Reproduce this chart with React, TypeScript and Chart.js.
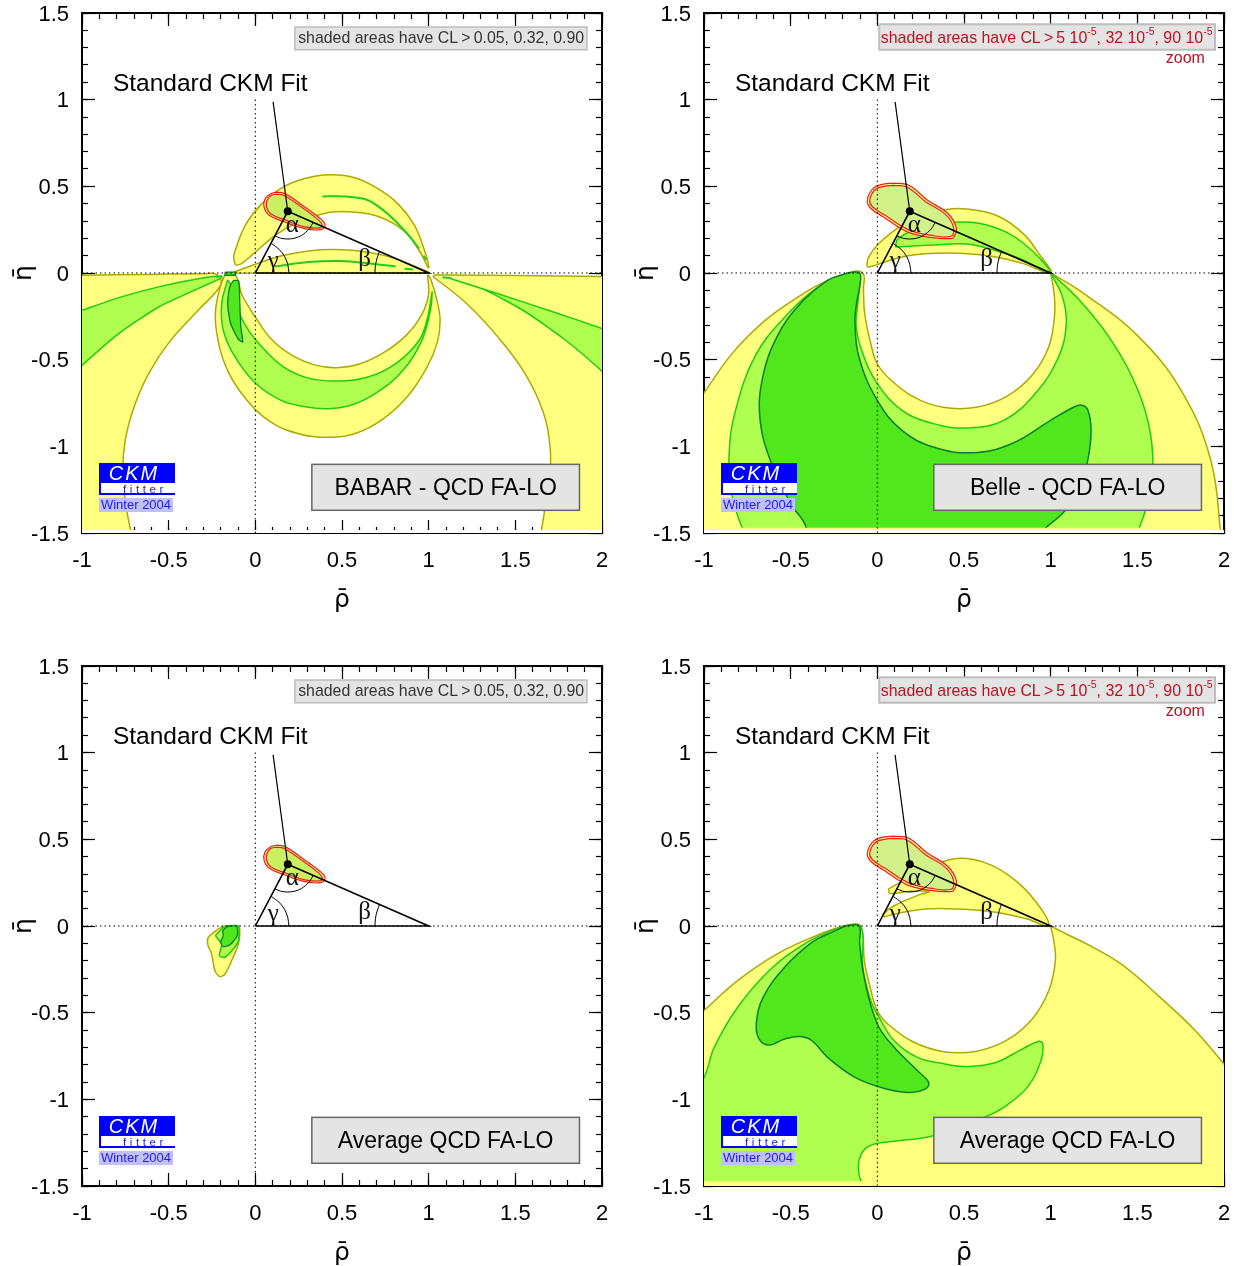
import React, { useEffect, useRef } from "react";
import { Chart, registerables } from "chart.js";

Chart.register(...registerables);

type P = [number, number];

// ---------- shared chart data ----------
const triangle: P[] = [[0, 0], [1, 0], [0.187, 0.356], [0, 0]];
const leader: P[] = [[0.1025, 0.987], [0.187, 0.356]];
const apex: P[] = [[0.187, 0.356]];
const gammaArc: P[] = [[0.194, 0], [0.187, 0.05], [0.168, 0.097], [0.137, 0.137], [0.093, 0.17]];
const betaArc: P[] = [[0.69, 0], [0.693, 0.045], [0.703, 0.087], [0.716, 0.124]];
const alphaArc: P[] = [[0.112, 0.215], [0.146, 0.201], [0.187, 0.196], [0.228, 0.201], [0.267, 0.217], [0.31, 0.253], [0.334, 0.292]];
const hAxis: P[] = [[-1, 0], [2, 0]];
const vAxis: P[] = [[0, -1.5], [0, 1.5]];

const ckmSmallOuter: P[] = [[0.125, 0.467], [0.171, 0.458], [0.285, 0.381], [0.376, 0.313], [0.403, 0.275], [0.376, 0.25], [0.285, 0.256], [0.171, 0.294], [0.08, 0.333], [0.05, 0.381], [0.057, 0.429], [0.091, 0.458], [0.125, 0.467]];
const ckmSmallInner: P[] = [[0.12, 0.455], [0.165, 0.447], [0.278, 0.372], [0.366, 0.305], [0.388, 0.272], [0.372, 0.26], [0.285, 0.266], [0.175, 0.305], [0.09, 0.34], [0.065, 0.38], [0.068, 0.42], [0.09, 0.447], [0.12, 0.455]];
const ckmZoomOuter: P[] = [[0.092, 0.519], [0.18, 0.508], [0.288, 0.421], [0.404, 0.346], [0.456, 0.26], [0.44, 0.205], [0.421, 0.198], [0.306, 0.205], [0.173, 0.237], [0.035, 0.323], [-0.04, 0.375], [-0.058, 0.421], [-0.023, 0.49], [0.035, 0.513], [0.092, 0.519]];
const ckmZoomInner: P[] = [[0.092, 0.505], [0.173, 0.495], [0.28, 0.41], [0.393, 0.338], [0.44, 0.262], [0.425, 0.212], [0.306, 0.218], [0.178, 0.25], [0.045, 0.333], [-0.028, 0.382], [-0.044, 0.421], [-0.012, 0.482], [0.04, 0.5], [0.092, 0.505]];

// bands along the bottom axis where the contour scan stops
const stripWhite: P[] = [[-1.1, -1.5], [2.1, -1.5], [2.1, -1.482], [-1.1, -1.482], [-1.1, -1.5]];
const stripBelle: P[] = [[-1.1, -1.482], [1.975, -1.482], [1.975, -1.47], [-1.1, -1.47], [-1.1, -1.482]];
const stripAverage: P[] = [[-1.1, -1.5], [2.1, -1.5], [2.1, -1.473], [-1.1, -1.473], [-1.1, -1.5]];

// ---------- BABAR ----------
const babarUpperYellow: P[] = [[-0.114, 0.044], [-0.125, 0.09], [-0.111, 0.145], [-0.055, 0.28], [0.034, 0.396], [0.15, 0.49], [0.285, 0.545], [0.43, 0.567], [0.575, 0.55], [0.71, 0.485], [0.826, 0.396], [0.915, 0.28], [0.971, 0.145], [1.0, 0.03], [0.945, 0.13], [0.854, 0.246], [0.717, 0.323], [0.58, 0.35], [0.444, 0.352], [0.33, 0.323], [0.19, 0.265], [0.08, 0.19], [-0.011, 0.11], [-0.08, 0.054], [-0.114, 0.044]];
const babarLensYellow: P[] = [[-0.125, 0.005], [0.125, 0.092], [0.31, 0.127], [0.467, 0.135], [0.65, 0.12], [0.81, 0.083], [1.0, 0.005], [1.0, 0], [-0.125, 0], [-0.125, 0.005]];
const babarLeftYellow: P[] = [[-1.1, -0.013], [-1, -0.013], [-0.6, -0.008], [-0.3, -0.004], [-0.22, -0.01], [-0.2, -0.07], [-0.33, -0.215], [-0.49, -0.39], [-0.61, -0.57], [-0.695, -0.76], [-0.75, -0.96], [-0.765, -1.16], [-0.745, -1.35], [-0.705, -1.55], [-0.68, -1.65], [-1.1, -1.65], [-1.1, -0.013]];
const babarRightYellow: P[] = [[1.025, -0.02], [1.04, -0.012], [1.1, -0.012], [1.5, -0.015], [2, -0.02], [2.1, -0.022], [2.1, -1.65], [1.62, -1.65], [1.64, -1.55], [1.675, -1.33], [1.7, -1.16], [1.7, -1.0], [1.66, -0.8], [1.556, -0.58], [1.4, -0.37], [1.22, -0.177], [1.025, -0.02]];
const babarBowlYellow: P[] = [[-0.2, -0.07], [-0.228, -0.2], [-0.225, -0.33], [-0.17, -0.54], [-0.06, -0.72], [0.09, -0.86], [0.26, -0.93], [0.42, -0.948], [0.58, -0.925], [0.74, -0.84], [0.88, -0.71], [0.99, -0.545], [1.05, -0.4], [1.066, -0.273], [1.048, -0.158], [1.014, -0.042], [0.995, -0.013], [1.0, -0.12], [0.96, -0.24], [0.87, -0.36], [0.74, -0.46], [0.6, -0.525], [0.467, -0.546], [0.34, -0.53], [0.22, -0.48], [0.1, -0.39], [0, -0.254], [-0.08, -0.12], [-0.1, -0.04], [-0.125, -0.008], [-0.17, -0.008], [-0.2, -0.07]];
const babarBowlGreen: P[] = [[-0.16, -0.04], [-0.194, -0.177], [-0.185, -0.33], [-0.12, -0.48], [0, -0.635], [0.148, -0.735], [0.28, -0.77], [0.42, -0.783], [0.56, -0.76], [0.7, -0.69], [0.854, -0.56], [0.96, -0.39], [1.01, -0.215], [1.02, -0.11], [1.01, -0.17], [0.995, -0.254], [0.945, -0.388], [0.81, -0.523], [0.65, -0.6], [0.467, -0.623], [0.3, -0.605], [0.16, -0.54], [0.05, -0.44], [-0.04, -0.33], [-0.1, -0.215], [-0.137, -0.08], [-0.16, -0.04]];
const babarBladeDark: P[] = [[-0.125, -0.042], [-0.096, -0.046], [-0.09, -0.158], [-0.084, -0.31], [-0.073, -0.398], [-0.1, -0.38], [-0.143, -0.29], [-0.16, -0.177], [-0.148, -0.08], [-0.125, -0.042]];
const babarSpotDark: P[] = [[-0.175, 0.005], [-0.114, 0.005], [-0.114, -0.013], [-0.175, -0.013], [-0.175, 0.005]];
const babarLeftWedge: P[] = [[-1.1, -0.25], [-1, -0.215], [-0.788, -0.142], [-0.558, -0.08], [-0.33, -0.033], [-0.194, -0.018], [-0.194, -0.028], [-0.33, -0.09], [-0.558, -0.196], [-0.788, -0.35], [-1, -0.533], [-1.1, -0.63], [-1.1, -0.25]];
const babarRightWedge: P[] = [[1.128, -0.033], [1.4, -0.12], [1.72, -0.225], [2, -0.32], [2.1, -0.36], [2.1, -0.67], [2, -0.567], [1.79, -0.388], [1.56, -0.225], [1.33, -0.1], [1.15, -0.04], [1.128, -0.033]];
const babarArcStreak: P[] = [[0.387, 0.442], [0.51, 0.442], [0.65, 0.42], [0.763, 0.342], [0.877, 0.227], [0.945, 0.14]];
const babarLensStreak: P[] = [[0.114, 0.038], [0.307, 0.063], [0.49, 0.069], [0.67, 0.054], [0.81, 0.038]];
const babarDashA: P[] = [[0.86, 0.025], [0.91, 0.02]];
const babarDashB: P[] = [[0.97, 0.1], [0.985, 0.075]];
const babarDashC: P[] = [[1.08, -0.025], [1.13, -0.03]];
const babarDashD: P[] = [[-0.225, -0.02], [-0.21, -0.025]];

// ---------- Belle ----------
const belleUpperYellow: P[] = [[-0.061, 0.044], [-0.05, 0.092], [0.007, 0.169], [0.142, 0.275], [0.3, 0.346], [0.436, 0.371], [0.571, 0.362], [0.707, 0.323], [0.842, 0.227], [0.932, 0.112], [1, 0], [0.842, 0.054], [0.684, 0.092], [0.503, 0.112], [0.3, 0.112], [0.142, 0.092], [-0.016, 0.044], [-0.056, 0.035], [-0.061, 0.044]];
const belleUpperGreen: P[] = [[0.104, 0.15], [0.121, 0.2], [0.265, 0.265], [0.496, 0.294], [0.669, 0.265], [0.842, 0.173], [1, 0], [0.842, 0.075], [0.71, 0.121], [0.518, 0.167], [0.324, 0.161], [0.104, 0.15]];
const belleLowerYellow: P[] = [[1, 0], [1.18, -0.11], [1.51, -0.37], [1.766, -0.7], [1.925, -1.086], [1.98, -1.5], [1.985, -1.65], [-1.2, -1.65], [-1.07, -0.824], [-1.006, -0.7], [-0.751, -0.369], [-0.42, -0.114], [-0.17, 0], [-0.084, 0], [-0.08, -0.1], [-0.073, -0.235], [-0.035, -0.42], [0, -0.525], [0.07, -0.61], [0.201, -0.71], [0.38, -0.775], [0.57, -0.775], [0.749, -0.71], [0.895, -0.587], [0.99, -0.422], [1.023, -0.235], [1.02, -0.12], [1, 0]];
const belleLowerGreen: P[] = [[1, 0], [1.16, -0.15], [1.33, -0.36], [1.47, -0.6], [1.56, -0.85], [1.59, -1.1], [1.56, -1.32], [1.5, -1.5], [1.45, -1.62], [-0.7, -1.62], [-0.78, -1.47], [-0.84, -1.27], [-0.855, -1.05], [-0.82, -0.8], [-0.7, -0.47], [-0.52, -0.24], [-0.354, -0.09], [-0.196, -0.013], [-0.129, -0.004], [-0.102, -0.023], [-0.113, -0.177], [-0.122, -0.31], [-0.084, -0.465], [0, -0.638], [0.142, -0.792], [0.323, -0.869], [0.526, -0.894], [0.729, -0.85], [0.91, -0.696], [1.045, -0.485], [1.09, -0.292], [1.068, -0.138], [1, 0]];
const belleLowerDark: P[] = [[-0.174, 0], [-0.102, 0], [-0.102, -0.08], [-0.117, -0.158], [-0.129, -0.273], [-0.106, -0.485], [0, -0.735], [0.142, -0.908], [0.323, -1.004], [0.549, -1.037], [0.774, -0.985], [1, -0.85], [1.135, -0.773], [1.181, -0.763], [1.215, -0.792], [1.233, -0.908], [1.214, -1.08], [1.158, -1.273], [1.068, -1.388], [0.966, -1.475], [0.9, -1.56], [-0.47, -1.56], [-0.41, -1.475], [-0.5, -1.33], [-0.61, -1.1], [-0.675, -0.86], [-0.665, -0.62], [-0.58, -0.37], [-0.445, -0.177], [-0.287, -0.042], [-0.196, -0.008], [-0.174, 0]];

// ---------- Average, wide confidence ----------
const avgBlobYellow: P[] = [[-0.117, 0], [-0.092, -0.004], [-0.098, -0.104], [-0.137, -0.2], [-0.175, -0.277], [-0.204, -0.292], [-0.233, -0.258], [-0.252, -0.162], [-0.275, -0.104], [-0.271, -0.065], [-0.213, -0.017], [-0.175, 0], [-0.117, 0]];
const avgBlobGreen: P[] = [[-0.175, 0], [-0.098, 0], [-0.098, -0.085], [-0.127, -0.133], [-0.175, -0.18], [-0.208, -0.171], [-0.194, -0.104], [-0.229, -0.056], [-0.204, -0.027], [-0.175, 0]];
const avgBlobDark: P[] = [[-0.165, -0.004], [-0.108, 0], [-0.104, -0.056], [-0.146, -0.108], [-0.185, -0.119], [-0.2, -0.094], [-0.185, -0.056], [-0.188, -0.027], [-0.165, -0.004]];

// ---------- Average, zoom ----------
const avgUpperYellow: P[] = [[0.063, 0.213], [0.187, 0.281], [0.323, 0.348], [0.458, 0.39], [0.616, 0.367], [0.774, 0.281], [0.91, 0.146], [0.989, 0.002], [0.865, 0.04], [0.684, 0.079], [0.458, 0.098], [0.278, 0.098], [0.097, 0.069], [0.041, 0.054], [0.034, 0.069], [0.097, 0.117], [0.244, 0.181], [0.3, 0.198], [0.187, 0.2], [0.074, 0.188], [0.063, 0.213]];
const avgLowerYellow: P[] = [[1, 0], [1.09, -0.046], [1.226, -0.113], [1.406, -0.219], [1.632, -0.412], [1.835, -0.604], [2, -0.796], [2.1, -0.91], [2.1, -1.65], [-1.1, -1.65], [-1.1, -0.58], [-1, -0.488], [-0.806, -0.315], [-0.58, -0.162], [-0.354, -0.056], [-0.196, 0], [-0.106, 0.008], [-0.084, -0.046], [-0.075, -0.2], [-0.04, -0.36], [0, -0.49], [0.06, -0.565], [0.205, -0.668], [0.383, -0.725], [0.573, -0.722], [0.75, -0.657], [0.895, -0.535], [0.99, -0.371], [1.027, -0.2], [1.018, -0.085], [1, 0]];
const avgLowerGreen: P[] = [[-0.185, 0], [-0.106, 0.006], [-0.084, -0.046], [-0.084, -0.238], [-0.038, -0.431], [0, -0.508], [0.097, -0.662], [0.232, -0.758], [0.39, -0.796], [0.526, -0.81], [0.684, -0.787], [0.819, -0.719], [0.932, -0.665], [0.955, -0.681], [0.944, -0.777], [0.865, -0.931], [0.729, -1.046], [0.616, -1.104], [0.323, -1.21], [0.097, -1.242], [0, -1.254], [-0.072, -1.287], [-0.106, -1.354], [-0.106, -1.431], [-0.088, -1.55], [-1.1, -1.55], [-1.1, -1.0], [-1, -0.873], [-0.941, -0.7], [-0.806, -0.469], [-0.625, -0.258], [-0.422, -0.104], [-0.264, -0.027], [-0.185, 0]];
const avgLowerDark: P[] = [[-0.185, 0], [-0.106, 0.002], [-0.102, -0.104], [-0.072, -0.315], [0, -0.565], [0.097, -0.7], [0.232, -0.835], [0.296, -0.902], [0.278, -0.94], [0.187, -0.96], [0.052, -0.94], [-0.129, -0.873], [-0.287, -0.758], [-0.377, -0.662], [-0.445, -0.638], [-0.535, -0.652], [-0.625, -0.687], [-0.682, -0.652], [-0.698, -0.565], [-0.659, -0.412], [-0.535, -0.238], [-0.377, -0.094], [-0.242, -0.027], [-0.185, 0]];

// ---------- text ----------
const labelBabar = "BABAR - QCD FA-LO";
const labelBelle = "Belle - QCD FA-LO";
const labelAverage = "Average QCD FA-LO";
const fitLabel = "Standard CKM Fit";
const noteWide = "shaded areas have CL\u2009>\u20090.05, 0.32, 0.90";
const noteZoomParts = ["shaded areas have CL\u2009>\u20095 10", "-5", ", 32 10", "-5", ", 90 10", "-5"];
const zoomWord = "zoom";
const rhoTitle = "ρ\u0304";
const etaTitle = "η\u0304";

// ---------- styling ----------
const SANS = '"Liberation Sans", Arial, sans-serif';
const SERIF = '"Liberation Serif", serif';
const YELLOW = { fill: "#ffff80", line: "#abab00" };
const GREEN = { fill: "#b0ff50", line: "#1fcc10" };
const DARK = { fill: "#50e81c", line: "#0c7f24" };
const PLAIN_WHITE = { fill: "#ffffff", line: "rgba(0,0,0,0)" };
const PLAIN_YELLOW = { fill: "#ffff80", line: "rgba(0,0,0,0)" };

const pts = (a: P[]) => a.map(([x, y]) => ({ x, y }));
const area = (a: P[], c: { fill: string; line: string }, w = 1.5, tension = 0.4) => ({
  data: pts(a),
  showLine: true,
  fill: "shape",
  backgroundColor: c.fill,
  borderColor: c.line,
  borderWidth: w,
  tension,
  pointRadius: 0,
});
const stroke = (a: P[], color: string, w: number, extra: any = {}) => ({
  data: pts(a),
  showLine: true,
  fill: false,
  borderColor: color,
  borderWidth: w,
  tension: 0,
  pointRadius: 0,
  ...extra,
});
const streak = (a: P[]) => stroke(a, "#22cc22", 2, { tension: 0.3 });

function overlays(wide: boolean) {
  const outer = wide ? ckmSmallOuter : ckmZoomOuter;
  const inner = wide ? ckmSmallInner : ckmZoomInner;
  return [
    area(outer, { fill: "#ffff80", line: "#ee1c1c" }, 1.2, 0.4),
    area(inner, { fill: wide ? "#c8f060" : "#d2f188", line: "#ee1c1c" }, 1.2, 0.4),
    stroke(hAxis, "#000", 1, { borderDash: [1.5, 3] }),
    stroke(vAxis, "#000", 1, { borderDash: [1.5, 3] }),
    stroke(triangle, "#000", 1.6),
    stroke(leader, "#000", 1.2),
    stroke(gammaArc, "#000", 1, { tension: 0.3 }),
    stroke(betaArc, "#000", 1, { tension: 0.3 }),
    stroke(alphaArc, "#000", 1, { tension: 0.3 }),
    { data: pts(apex), showLine: false, pointRadius: 4, pointBackgroundColor: "#000", pointBorderWidth: 0 },
  ];
}

const panels = [
  {
    left: 0, top: 0, width: 622, padRight: 20, wide: true, label: labelBabar,
    marks: [
      area(babarLeftYellow, YELLOW), area(babarRightYellow, YELLOW), area(babarBowlYellow, YELLOW),
      area(babarUpperYellow, YELLOW), area(babarLensYellow, YELLOW, 1.5, 0.3),
      area(babarLeftWedge, GREEN, 1.5, 0.2), area(babarRightWedge, GREEN, 1.5, 0.2), area(babarBowlGreen, GREEN),
      area(babarBladeDark, DARK, 1.3, 0.2), area(babarSpotDark, DARK, 1.3, 0),
      streak(babarArcStreak), streak(babarLensStreak), streak(babarDashA), streak(babarDashB), streak(babarDashC), streak(babarDashD),
      area(stripWhite, PLAIN_WHITE, 0, 0),
    ],
  },
  {
    left: 622, top: 0, width: 612, padRight: 10, wide: false, label: labelBelle,
    marks: [
      area(belleLowerYellow, YELLOW), area(belleLowerGreen, GREEN), area(belleLowerDark, DARK),
      area(belleUpperYellow, YELLOW), area(belleUpperGreen, GREEN),
      area(stripBelle, PLAIN_YELLOW, 0, 0), area(stripWhite, PLAIN_WHITE, 0, 0),
    ],
  },
  {
    left: 0, top: 653, width: 622, padRight: 20, wide: true, label: labelAverage,
    marks: [area(avgBlobYellow, YELLOW, 1.5, 0.3), area(avgBlobGreen, GREEN, 1.5, 0.2), area(avgBlobDark, DARK, 1.3, 0.2)],
  },
  {
    left: 622, top: 653, width: 612, padRight: 10, wide: false, label: labelAverage,
    marks: [
      area(avgLowerYellow, YELLOW), area(avgLowerGreen, GREEN), area(avgLowerDark, DARK),
      area(avgUpperYellow, YELLOW),
      area(stripAverage, PLAIN_YELLOW, 0, 0),
    ],
  },
];

const overlayPlugin = {
  id: "ckmOverlay",
  afterDatasetsDraw(chart: any, _a: any, o: any) {
    const { ctx, chartArea: ca, scales } = chart;
    const X = (v: number) => scales.x.getPixelForValue(v);
    const Y = (v: number) => scales.y.getPixelForValue(v);
    const box = (x1: number, y1: number, x2: number, y2: number, fill: string, line: string | null, lw = 1) => {
      ctx.fillStyle = fill;
      ctx.fillRect(X(x1), Y(y1), X(x2) - X(x1), Y(y2) - Y(y1));
      if (line) {
        ctx.strokeStyle = line;
        ctx.lineWidth = lw;
        ctx.strokeRect(X(x1), Y(y1), X(x2) - X(x1), Y(y2) - Y(y1));
      }
    };
    const text = (s: string, px: number, py: number, font: string, color: string, align: CanvasTextAlign = "center") => {
      ctx.font = font;
      ctx.fillStyle = color;
      ctx.textAlign = align;
      ctx.textBaseline = "middle";
      ctx.fillText(s, px, py);
    };
    ctx.save();
    // white patch behind the fit caption
    box(-0.9, 1.42, 0.33, 1.01, "#ffffff", null);
    text(fitLabel, X(-0.26), Y(1.087), `24.5px ${SANS}`, "#000");
    // the Greek angle names
    text("α", X(0.213), Y(0.277), `25px ${SERIF}`, "#111");
    text("γ", X(0.104), Y(0.069), `25px ${SERIF}`, "#111");
    text("β", X(0.63), Y(0.08), `25px ${SERIF}`, "#111");
    // note box
    if (o.wide) {
      box(0.228, 1.419, 1.913, 1.288, "#e4e4e4", "#bdbdbd", 1.5);
      text(noteWide, X(1.072), Y(1.353), `15.9px ${SANS}`, "#333");
    } else {
      box(0.011, 1.435, 1.948, 1.288, "#e4e4e4", "#bdbdbd", 2);
      const red = "#c01020";
      let px = X(0.02);
      const py = Y(1.353);
      noteZoomParts.forEach((part, i) => {
        const sup = i % 2 === 1;
        const font = sup ? `10.5px ${SANS}` : `15.9px ${SANS}`;
        text(part, px, sup ? py - 6 : py, font, red, "left");
        px += ctx.measureText(part).width;
      });
      text(zoomWord, X(1.89), Y(1.235), `16px ${SANS}`, red, "right");
    }
    // label box
    box(0.326, -1.104, 1.87, -1.369, "#e4e4e4", "#666666", 1.5);
    text(o.label, X(1.098), Y(-1.242), `23px ${SANS}`, "#000");
    // logo
    const lx = ca.left + 17;
    const ly = ca.top + 450;
    ctx.fillStyle = "#ffffff";
    ctx.fillRect(lx, ly + 20, 76, 10);
    ctx.fillStyle = "#0000ff";
    ctx.fillRect(lx, ly, 76, 20);
    ctx.fillRect(lx, ly + 30, 76, 2);
    ctx.fillRect(lx, ly + 20, 2, 10);
    ctx.fillStyle = "#c0c0ff";
    ctx.fillRect(lx, ly + 35, 74, 14);
    ctx.letterSpacing = "2px";
    text("CKM", lx + 35, ly + 11, `italic 20px ${SANS}`, "#ffffff");
    ctx.letterSpacing = "3.6px";
    text("fitter", lx + 46, ly + 27, `11.5px ${SANS}`, "#1c1cf0");
    ctx.letterSpacing = "0px";
    text("Winter 2004", lx + 37, ly + 42, `13px ${SANS}`, "#1c1cf0");
    ctx.restore();
  },
};

function tickScale(position: string, step: number, len: number, horizontal: boolean, main: boolean, title?: string) {
  const isY = !horizontal;
  return {
    type: "linear",
    position,
    min: isY ? -1.5 : -1,
    max: isY ? 1.5 : 2,
    z: 1,
    weight: main ? 1 : 0,
    afterFit(s: any) {
      if (horizontal) s.height = main && position === "bottom" ? 80 : 0;
      else s.width = main && position === "left" ? 82 : 0;
      s.paddingLeft = s.paddingRight = s.paddingTop = s.paddingBottom = 0;
    },
    border: { display: main, color: "#000", width: 2 },
    grid: { drawOnChartArea: false, drawTicks: true, tickLength: -len, tickColor: "#000", tickWidth: 1.2 },
    ticks: {
      display: main && (position === "bottom" || position === "left"),
      stepSize: step,
      autoSkip: false,
      maxRotation: 0,
      padding: horizontal ? 28 : 26,
      labelOffset: horizontal ? 0 : 1.5,
      color: "#000",
      font: { family: SANS, size: 22 },
      callback: (v: number) => String(+Number(v).toFixed(1)),
    },
    title: title
      ? { display: true, text: title, color: "#000", font: { family: '"DejaVu Sans", sans-serif', size: 25, lineHeight: 1 }, padding: { top: horizontal ? 0 : 12, bottom: 0 } }
      : { display: false },
  };
}

function Panel({ p }: { p: (typeof panels)[number] }) {
  const ref = useRef<HTMLCanvasElement>(null);
  useEffect(() => {
    const datasets = [...p.marks, ...overlays(p.wide)].reverse();
    const chart = new Chart(ref.current as HTMLCanvasElement, {
      type: "scatter",
      data: { datasets } as any,
      plugins: [overlayPlugin],
      options: {
        animation: false,
        responsive: false,
        events: [],
        layout: { padding: { left: 0, top: 13, right: p.padRight, bottom: 0 } },
        plugins: {
          legend: { display: false },
          tooltip: { enabled: false },
          ckmOverlay: { wide: p.wide, label: p.label },
        },
        scales: {
          x: tickScale("bottom", 0.5, 13, true, true, rhoTitle),
          xMinor: tickScale("bottom", 0.1, 6, true, false),
          xTop: tickScale("top", 0.5, 13, true, true),
          xTopMinor: tickScale("top", 0.1, 6, true, false),
          y: tickScale("left", 0.5, 13, false, true, etaTitle),
          yMinor: tickScale("left", 0.1, 6, false, false),
          yRight: tickScale("right", 0.5, 13, false, true),
          yRightMinor: tickScale("right", 0.1, 6, false, false),
        },
      } as any,
    });
    return () => chart.destroy();
  }, [p]);
  return (
    <canvas
      ref={ref}
      width={p.width}
      height={613}
      style={{ position: "absolute", left: p.left, top: p.top, width: p.width, height: 613 }}
    />
  );
}

export default function App() {
  return (
    <div style={{ position: "absolute", left: 0, top: 0, width: 1234, height: 1266, background: "#fff" }}>
      {panels.map((p, i) => (
        <Panel key={i} p={p} />
      ))}
    </div>
  );
}
